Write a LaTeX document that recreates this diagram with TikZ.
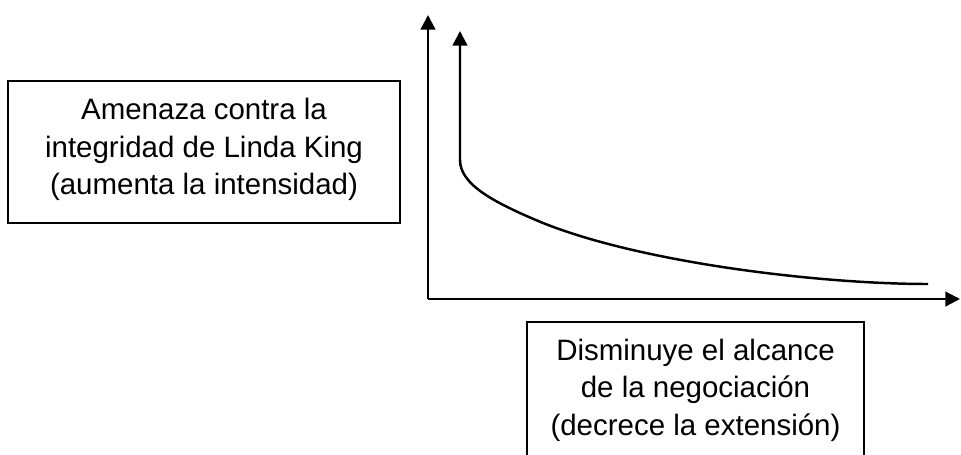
\documentclass[tikz,border=0pt]{standalone}
\usepackage{fontspec}
\setmainfont{Liberation Sans}
\usetikzlibrary{arrows.meta}
\tikzset{
  frame/.style={draw=black, line width=1.25pt, inner sep=0pt},
  label/.style={inner sep=0pt, align=center, font=\fontsize{22.1pt}{28pt}\selectfont},
  axis/.style={line width=1.7pt, -{Triangle[length=11pt,width=11pt]}},
  curveline/.style={line width=1.85pt, -{Triangle[length=11pt,width=11pt]}}
}
\begin{document}
\begin{tikzpicture}[x=0.75pt,y=-0.75pt]
\useasboundingbox (0,0) rectangle (961,454);
% boxes
\node[frame, minimum width=294pt, minimum height=106.5pt] (b1) at (204,152) {};
\node[label] (t1) at (204,149.4) {Amenaza contra la\\integridad de Linda King\\(aumenta la intensidad)};
\node[frame, minimum width=252.75pt, minimum height=102.4pt] (b2) at (695.5,390.2) {};
\node[label] (t2) at (695.5,390.2) {Disminuye el alcance\\de la negociación\\(decrece la extensión)};
% axes
\coordinate (O) at (428,299);
\coordinate (Ytop) at (428,15);
\coordinate (Xend) at (960,299);
\draw[axis] (O) -- (Ytop);
\draw[axis] (O) -- (Xend);
% curve
\coordinate (Cend) at (928,284);
\coordinate (Cmid) at (543,223);
\coordinate (Cbend) at (460,160);
\coordinate (Ctip) at (460,31);
\draw[curveline] (Cend) .. controls (820,284) and (643,263) .. (Cmid)
  .. controls (495,203) and (460,185) .. (Cbend) -- (Ctip);
\end{tikzpicture}
\end{document}
